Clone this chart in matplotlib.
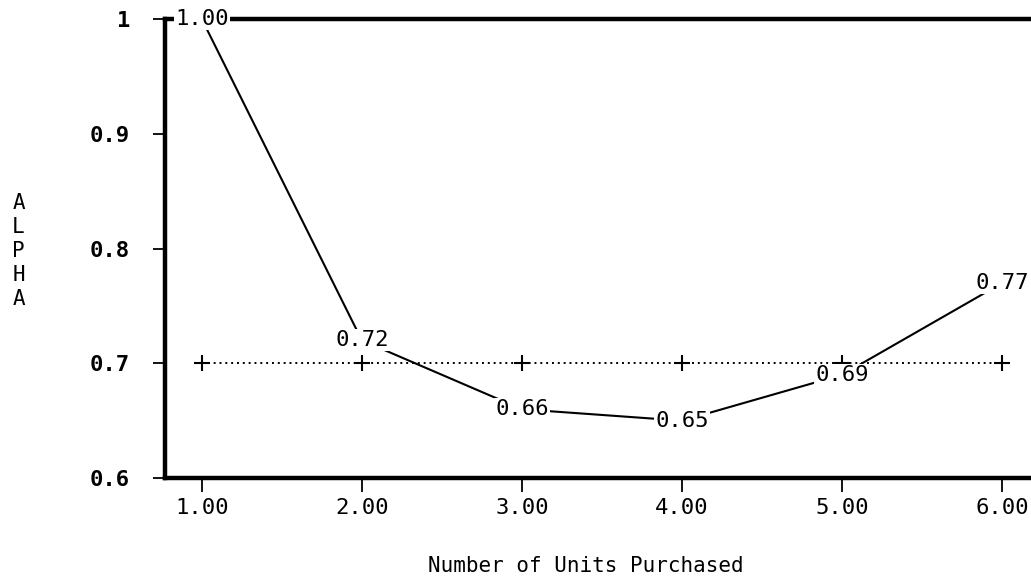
"""Alpha vs number of units purchased, with the 0.7 reference level."""
import matplotlib
matplotlib.use("Agg")
import matplotlib.pyplot as plt

units = [1, 2, 3, 4, 5, 6]
alpha = [1.00, 0.72, 0.66, 0.65, 0.69, 0.77]
ref_level = [0.70, 0.70, 0.70, 0.70, 0.70, 0.70]

x_ticks = [1, 2, 3, 4, 5, 6]
x_tick_labels = ["1.00", "2.00", "3.00", "4.00", "5.00", "6.00"]
y_ticks = [0.6, 0.7, 0.8, 0.9, 1.0]
y_tick_labels = ["0.6", "0.7", "0.8", "0.9", "1"]

plt.rcParams["font.family"] = ["DejaVu Sans Mono"]

fig = plt.figure(figsize=(10.31, 5.76), dpi=100)
ax = fig.add_axes([0.160, 0.170, 0.840, 0.797])

# dotted reference line with + markers
ax.plot(units, ref_level, color="black", ls=(0, (1.0, 2.0)), lw=1.4,
        marker="+", ms=11, mew=1.5, zorder=2)

# alpha curve, joined label to label
ax.plot(units, alpha, color="black", lw=1.5, zorder=3)
for x, y in zip(units, alpha):
    ax.text(x, y, f"{y:.2f}", ha="center", va="center", fontsize=16,
            bbox=dict(boxstyle="square,pad=0.05", fc="white", ec="none"),
            zorder=6, clip_on=False)

ax.set_xlim(0.77, 6.18)
ax.set_ylim(0.6, 1.0)
ax.set_xticks(x_ticks)
ax.set_xticklabels(x_tick_labels)
ax.set_yticks(y_ticks)
ax.set_yticklabels(y_tick_labels, fontweight="bold")

ax.tick_params(axis="x", direction="out", length=10, width=1.3, pad=4, labelsize=16)
ax.tick_params(axis="y", direction="out", length=9, width=1.3, pad=16, labelsize=16)

for side in ["left", "bottom", "top"]:
    ax.spines[side].set_linewidth(3.2)
    ax.spines[side].set_zorder(4)
ax.spines["right"].set_visible(False)

fig.text(0.568, 0.007, "Number of Units Purchased", ha="center", va="baseline", fontsize=15)
fig.text(0.018, 0.564, "A\nL\nP\nH\nA", ha="center", va="center", fontsize=15,
         linespacing=1.25)

fig.savefig("out.png", dpi=100)
